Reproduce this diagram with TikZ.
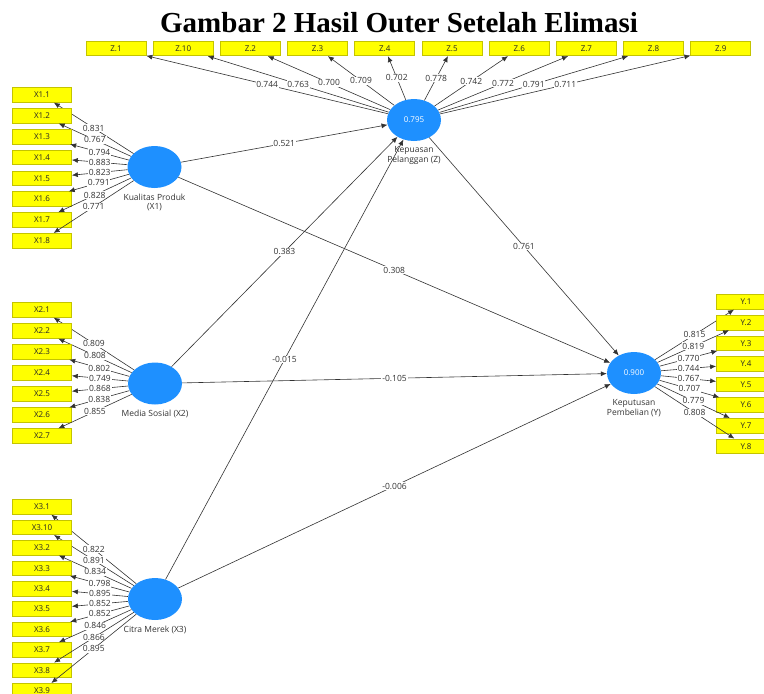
\documentclass[tikz,border=0pt]{standalone}
\usepackage{fontspec}
\setmainfont{Open Sans}
\newfontfamily\titlefont{Liberation Serif}
\usepackage{xcolor}
\usetikzlibrary{arrows.meta,shapes.geometric,positioning}

\definecolor{lvblue}{RGB}{30,144,255}
\definecolor{mvyellow}{RGB}{255,255,0}
\definecolor{mvborder}{RGB}{196,196,0}
\definecolor{pathgray}{RGB}{50,50,50}

\tikzset{
	latent/.style={ellipse, fill=lvblue, draw=none, minimum width=54pt, minimum height=42pt, inner sep=0pt, text=white, font=\fontsize{8}{9}\selectfont},
	indicator/.style={rectangle, fill=mvyellow, draw=mvborder, line width=0.7pt, minimum width=59pt, minimum height=14.5pt, inner sep=0pt, text=black!85, font=\fontsize{8}{9}\selectfont},
	coef/.style={fill=white, inner sep=0.8pt, text=black!80, font=\fontsize{8.5}{9}\selectfont},
	lvname/.style={align=center, text=black!80, font=\fontsize{8.5}{9.5}\selectfont},
	path/.style={draw=pathgray, line width=0.6pt, -{Latex[length=6pt,width=5pt]}}
}

\begin{document}
\begin{tikzpicture}[x=1pt,y=-1pt]
		\useasboundingbox (0,0) rectangle (764,694);
		
		%title
		\node[anchor=base, font=\titlefont\bfseries\fontsize{29}{31}\selectfont] (title) at (399,32) {Gambar 2 Hasil Outer Setelah Elimasi};
		
		%latent variables
		\node[latent] (X1) at (154.5,167) {};
		\node[latent] (X2) at (155,383.5) {};
		\node[latent] (X3) at (155,599) {};
		\node[latent] (Z)  at (414,120) {0.795};
		\node[latent] (Y)  at (634,373) {0.900};
		
		\node[lvname, below=2pt of X1] (X1name) {Kualitas Produk\\(X1)};
		\node[lvname, below=2pt of X2] (X2name) {Media Sosial (X2)};
		\node[lvname, below=2pt of X3] (X3name) {Citra Merek (X3)};
		\node[lvname, below=2pt of Z]  (Zname)  {Kepuasan\\Pelanggan (Z)};
		\node[lvname, below=2pt of Y]  (Yname)  {Keputusan\\Pembelian (Y)};
		
		%outer model
		\foreach \lab/\val [count=\i] in {1/0.831,2/0.767,3/0.794,4/0.883,5/0.823,6/0.791,7/0.828,8/0.771}{
			\node[indicator] (xa\i) at (42,{95+20.8*(\i-1)}) {X1.\lab};
			\draw[path] (X1) -- node[coef]{\val} (xa\i);
		}
		\foreach \lab/\val [count=\i] in {1/0.809,2/0.808,3/0.802,4/0.749,5/0.868,6/0.838,7/0.855}{
			\node[indicator] (xb\i) at (42,{310+21*(\i-1)}) {X2.\lab};
			\draw[path] (X2) -- node[coef]{\val} (xb\i);
		}
		\foreach \lab/\val [count=\i] in {1/0.822,10/0.891,2/0.834,3/0.798,4/0.895,5/0.852,6/0.852,7/0.846,8/0.866,9/0.895}{
			\node[indicator] (xc\i) at (42,{507+20.4*(\i-1)}) {X3.\lab};
			\draw[path] (X3) -- node[coef]{\val} (xc\i);
		}
		\foreach \lab/\val [count=\i] in {1/0.744,10/0.763,2/0.700,3/0.709,4/0.702,5/0.778,6/0.742,7/0.772,8/0.791,9/0.711}{
			\node[indicator, minimum width=60pt] (z\i) at ({116+67.2*(\i-1)},48.5) {Z.\lab};
			\draw[path] (Z) -- node[coef]{\val} (z\i);
		}
		\foreach \lab/\val [count=\i] in {1/0.815,2/0.819,3/0.770,4/0.744,5/0.767,6/0.707,7/0.779,8/0.808}{
			\node[indicator] (y\i) at (746,{302+20.6*(\i-1)}) {Y.\lab};
			\draw[path] (Y) -- node[coef]{\val} (y\i);
		}
		
		%inner model
		\draw[path] (X1) -- node[coef]{0.521} (Z);
		\draw[path] (X1) -- node[coef]{0.308} (Y);
		\draw[path] (X2) -- node[coef]{0.383} (Z);
		\draw[path] (X2) -- node[coef]{-0.105} (Y);
		\draw[path] (X3) -- node[coef]{-0.015} (Z);
		\draw[path] (X3) -- node[coef]{-0.006} (Y);
		\draw[path] (Z)  -- node[coef]{0.761} (Y);
\end{tikzpicture}
\end{document}
